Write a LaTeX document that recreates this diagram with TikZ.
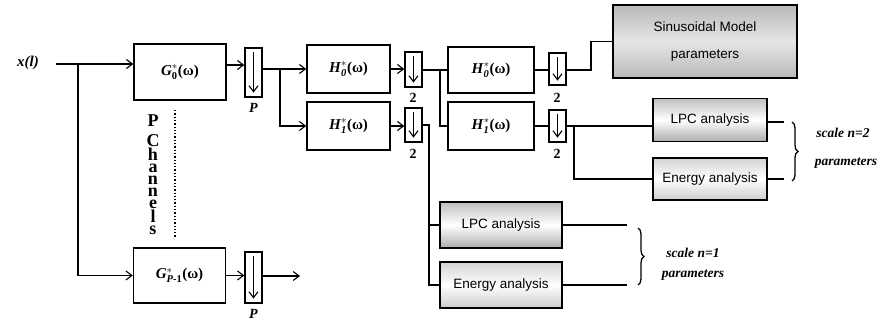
\documentclass[tikz,border=0pt]{standalone}
\usepackage{amsmath}
\usepackage{fontspec}
\setmainfont{Liberation Serif}
\setsansfont{Liberation Sans}
\usetikzlibrary{arrows.meta,decorations.pathreplacing,calc}
\begin{document}
\begin{tikzpicture}[x=1pt,y=-1pt,
  ln/.style={line width=1.3pt},
  arr/.style={ln,-{Straight Barb[length=6pt,width=9pt,line width=1.1pt]}},
  filt/.style={draw,line width=1.4pt,inner sep=0pt,font=\fontsize{15}{15}\selectfont\bfseries},
  dsmp/.style={draw,line width=1.3pt,inner sep=0pt,minimum width=17pt},
  dlab/.style={font=\fontsize{14}{14}\selectfont\bfseries,inner sep=0pt},
  anbox/.style={draw,line width=1.8pt,inner sep=0pt,font=\fontsize{13.5}{13.5}\sffamily},
  brlab/.style={font=\fontsize{13.5}{13.5}\selectfont\bfseries\itshape,inner sep=0pt}]
\useasboundingbox (0,0) rectangle (884,321);
% input
\node[font=\fontsize{15}{15}\selectfont\bfseries\itshape,inner sep=0pt] (xl) at (28,63) {x(l)};
\coordinate (xs) at (56,64);
\coordinate (j0) at (78,64);
% analysis filters G
\node[filt,minimum width=92pt,minimum height=56pt] (G0) at (180,72)
  {\textit{G}${}^{*}_{\text{\bfseries 0}}$(ω)};
\node[filt,minimum width=92pt,minimum height=55pt] (GP) at (179.5,275.5)
  {\textit{G}${}^{*}_{\text{\bfseries\itshape P}\text{\bfseries -1}}$(ω)};
\node[dsmp,minimum height=49pt] (P0) at (253.5,72.5) {};
\node[dsmp,minimum height=51pt] (PP) at (253.5,277.5) {};
\node[dlab,font=\fontsize{14}{14}\selectfont\bfseries\itshape] (P0l) at (253.5,108) {P};
\node[dlab,font=\fontsize{14}{14}\selectfont\bfseries\itshape] (PPl) at (253.5,314) {P};
% P Channels
\node[font=\fontsize{18}{12}\selectfont\bfseries,inner sep=0pt,align=center,anchor=north] (chan) at (153,115)
  {P\\[8pt]C\\h\\a\\n\\n\\e\\l\\s};
\coordinate (dt) at (175,110);
\coordinate (db) at (175,238);
\draw[line width=1.3pt,dotted] (dt) -- (db);
% first level H
\node[filt,minimum width=83pt,minimum height=48pt] (H0a) at (348.5,69) {\textit{H}${}^{*}_{\textit{\bfseries 0}}$(ω)};
\node[filt,minimum width=83pt,minimum height=48pt] (H1a) at (348.5,126) {\textit{H}${}^{*}_{\textit{\bfseries 1}}$(ω)};
\node[dsmp,minimum height=35pt] (D0a) at (413.5,69.5) {};
\node[dsmp,minimum height=34pt] (D1a) at (413.5,125) {};
\node[dlab] (D0al) at (413,98) {2};
\node[dlab] (D1al) at (413,154) {2};
% second level H
\node[filt,minimum width=86pt,minimum height=46pt] (H0b) at (491,70) {\textit{H}${}^{*}_{\textit{\bfseries 0}}$(ω)};
\node[filt,minimum width=86pt,minimum height=48pt] (H1b) at (491,126) {\textit{H}${}^{*}_{\textit{\bfseries 1}}$(ω)};
\node[dsmp,minimum height=32pt] (D0b) at (557.5,69) {};
\node[dsmp,minimum height=32pt] (D1b) at (557.5,126) {};
\node[dlab] (D0bl) at (557,98) {2};
\node[dlab] (D1bl) at (557,154) {2};
% shaded analysis boxes
\node[anbox,minimum width=184pt,minimum height=73pt,top color=gray!55,bottom color=gray!55,middle color=gray!20,align=center] (Sin) at (705,41.5)
  {Sinusoidal Model\\[13pt]parameters};
\node[anbox,minimum width=114pt,minimum height=43pt,top color=gray!50,bottom color=gray!65,middle color=white] (LPC2) at (710,120) {LPC analysis};
\node[anbox,minimum width=114pt,minimum height=42pt,top color=gray!35,bottom color=gray!40,middle color=white] (En2) at (710,179) {Energy analysis};
\node[anbox,minimum width=122pt,minimum height=46pt,top color=gray!50,bottom color=gray!65,middle color=white] (LPC1) at (501,225) {LPC analysis};
\node[anbox,minimum width=122pt,minimum height=46pt,top color=gray!35,bottom color=gray!40,middle color=white] (En1) at (501,285) {Energy analysis};
% down arrows in decimators
\foreach \d in {P0,PP,D0a,D1a,D0b,D1b}{
  \draw[arr] ([yshift=-5pt]\d.north) -- ([yshift=5pt]\d.south);
}
% connectors
\draw[ln] (xs) -- (j0);
\draw[arr] (j0) -- (j0 -| G0.west);
\draw[arr] (j0) |- (GP.west);
\coordinate (a1) at ([yshift=7pt]G0.east);
\draw[arr] (a1) -- (a1 -| P0.west);
\draw[arr] (GP.east) -- (GP.east -| PP.west);
\coordinate (po) at (300,276);
\draw[arr] (PP.east |- po) -- (po);
\coordinate (j1) at (280,69);
\draw[ln] (j1 -| P0.east) -- (j1);
\draw[arr] (j1) -- (j1 -| H0a.west);
\draw[arr] (j1) |- (H1a.west);
\draw[arr] (H0a.east) -- (H0a.east -| D0a.west);
\draw[arr] (H1a.east) -- (H1a.east -| D1a.west);
\coordinate (j2) at (440,70);
\draw[ln] (j2 -| D0a.east) -- (j2) -- (j2 -| H0b.west);
\draw[ln] (j2) |- (H1b.west);
\draw[ln] (H0b.east) -- (H0b.east -| D0b.west);
\draw[ln] (H1b.east) -- (H1b.east -| D1b.west);
\coordinate (j5) at (591,70);
\draw[ln] (j5 -| D0b.east) -- (j5) |- (Sin.west);
\coordinate (j3) at (574,126);
\draw[ln] (D1b.east) -- (D1b.east -| LPC2.west);
\draw[ln] (j3) |- (En2.west);
\coordinate (j4) at (429,125);
\draw[ln] (D1a.east) -- (j4) |- (En1.west);
\draw[ln] (j4 |- LPC1.west) -- (LPC1.west);
% outputs and braces
\coordinate (o1) at (627,225);
\coordinate (o2) at (627,285);
\draw[ln] (LPC1.east) -- (o1);
\draw[ln] (En1.east) -- (o2);
\coordinate (b1t) at (638,228);
\coordinate (b1b) at (638,285);
\draw[line width=1.3pt,decorate,decoration={brace,amplitude=6pt}] (b1t) -- (b1b);
\node[brlab] (s1) at (693,253) {scale \textit{n}=1};
\node[brlab] (p1) at (693,275) {parameters};
\coordinate (o3) at (784,122);
\coordinate (o4) at (784,179);
\draw[ln] (LPC2.east |- o3) -- (o3);
\draw[ln] (En2.east) -- (o4);
\coordinate (b2t) at (792,122);
\coordinate (b2b) at (792,181);
\draw[line width=1.3pt,decorate,decoration={brace,amplitude=6pt}] (b2t) -- (b2b);
\node[brlab] (s2) at (843,133) {scale \textit{n}=2};
\node[brlab] (p2) at (846,163) {parameters};
\end{tikzpicture}
\end{document}
